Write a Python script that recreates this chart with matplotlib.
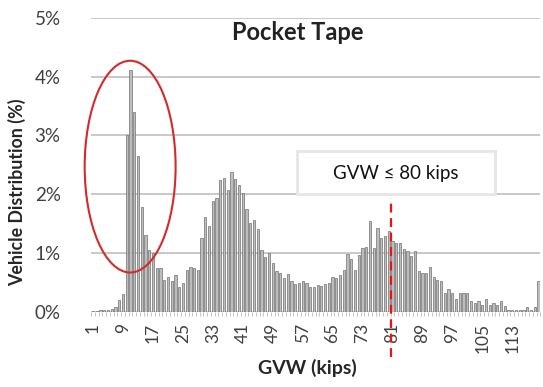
import numpy as np
import matplotlib
matplotlib.use("Agg")
from matplotlib import pyplot as plt
from matplotlib.patches import Ellipse, Rectangle

plt.rcParams['font.family'] = ['Lato', 'DejaVu Sans']

# GVW bins (kips) and share of vehicles (%)
gvw = list(range(1, 121))
share = [
    0.02, 0.02, 0.03, 0.03, 0.04, 0.05, 0.09, 0.20, 0.30, 3.00,   # 1-10
    4.12, 3.40, 2.65, 1.78, 1.31, 1.05, 1.00, 0.75, 0.75, 0.54,   # 11-20
    0.60, 0.52, 0.63, 0.43, 0.49, 0.71, 0.77, 0.75, 0.71, 1.25,   # 21-30
    1.62, 1.46, 1.88, 1.93, 2.24, 2.28, 2.07, 2.38, 2.26, 2.16,   # 31-40
    2.02, 1.75, 1.52, 1.56, 1.41, 1.05, 0.94, 1.01, 0.84, 0.69,   # 41-50
    0.66, 0.57, 0.65, 0.52, 0.48, 0.49, 0.53, 0.49, 0.43, 0.43,   # 51-60
    0.46, 0.44, 0.48, 0.49, 0.59, 0.57, 0.63, 0.71, 0.98, 0.90,   # 61-70
    0.71, 0.97, 1.09, 1.10, 1.54, 1.09, 1.42, 1.25, 1.29, 1.38,   # 71-80
    1.20, 1.17, 1.17, 1.07, 1.03, 0.95, 1.03, 0.70, 0.67, 0.67,   # 81-90
    0.77, 0.60, 0.54, 0.52, 0.32, 0.39, 0.32, 0.22, 0.32, 0.32,   # 91-100
    0.32, 0.19, 0.16, 0.18, 0.12, 0.22, 0.12, 0.16, 0.12, 0.18,   # 101-110
    0.10, 0.03, 0.03, 0.03, 0.03, 0.03, 0.08, 0.03, 0.08, 0.53,   # 111-120
]
xtick_vals = list(range(1, 114, 8))
ytick_vals = [0, 1, 2, 3, 4, 5]
limit_gvw = 80.5
limit_label = "GVW \u2264 80 kips"

fig = plt.figure(figsize=(5.43, 3.87), dpi=100)
ax = fig.add_axes([0.168, 0.194, 0.827, 0.760])

ax.bar(gvw, share, width=0.6, color='#bdbdbd', edgecolor='#707070', linewidth=0.5, zorder=3)

ax.set_xlim(0.5, 120.5)
ax.set_ylim(0, 5)
ax.set_yticks(ytick_vals)
ax.set_yticklabels([f"{v}%" for v in ytick_vals])
ax.set_xticks(xtick_vals)
ax.set_xticklabels([str(v) for v in xtick_vals], rotation=90)
ax.set_xticks(np.arange(0.5, 121, 1), minor=True)
ax.tick_params(axis='y', length=0, labelsize=13.5, labelcolor='#404040', pad=22)
ax.tick_params(axis='x', which='major', length=0, labelsize=12.5, labelcolor='#404040', pad=8)
ax.tick_params(axis='x', which='minor', length=3, color='#bbbbbb', width=0.6)
ax.yaxis.grid(True, color='#c8c8c8', linewidth=1.4, zorder=0)
for s in ax.spines.values():
    s.set_visible(False)

ax.set_xlabel("GVW (kips)", fontsize=14, fontweight='bold', color='#262626')
ax.xaxis.set_label_coords(0.481, -0.16)
ax.set_ylabel("Vehicle Distribution (%)", fontsize=12.8, fontweight='bold', color='#262626')
ax.yaxis.set_label_coords(-0.145, 0.408)
ax.text(0.459, 0.949, "Pocket Tape", transform=ax.transAxes, ha='center', va='center',
        fontsize=17, fontweight='bold', color='#222222')

# highlight of the light-vehicle peak
ax.add_patch(Ellipse((10.9, 2.47), 24.3, 3.6, fill=False, edgecolor='#d42a2a',
                     linewidth=1.5, zorder=5, clip_on=False))

# legal load limit
ax.plot([limit_gvw, limit_gvw], [-0.77, 1.94], color='#ee1111', linestyle=(0, (4, 2.5)),
        linewidth=1.6, zorder=6, clip_on=False)
ax.add_patch(Rectangle((55.6, 2.0), 52.9, 0.73, facecolor='white', edgecolor='#e6e6e6',
                       linewidth=2, zorder=7))
ax.text(82, 2.36, limit_label, ha='center', va='center', fontsize=13.5, color='#111111', zorder=8)

fig.savefig("out.png", dpi=100)
